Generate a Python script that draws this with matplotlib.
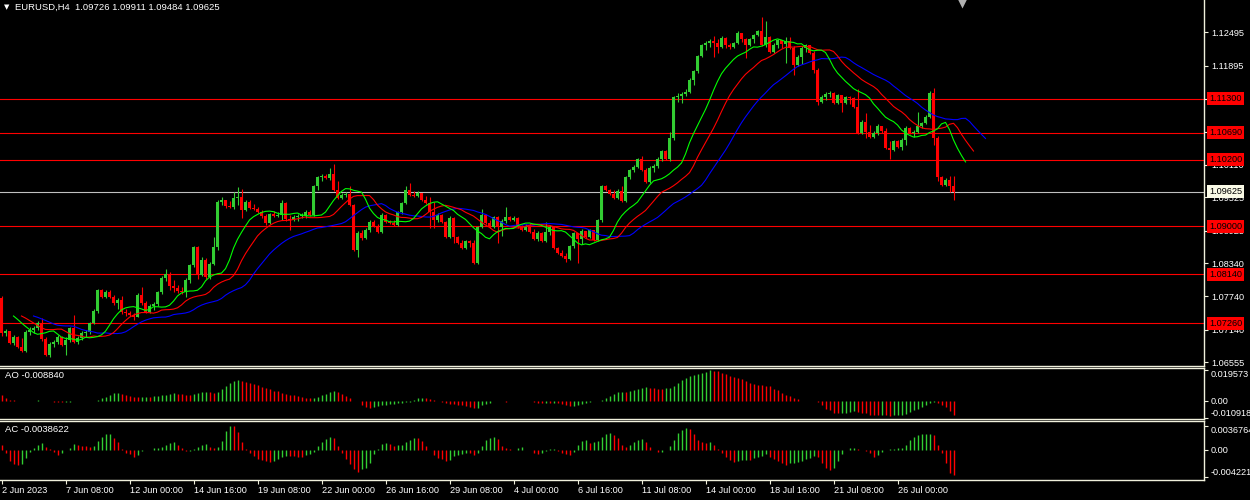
import numpy as np
import pandas as pd
import matplotlib
matplotlib.use("Agg")
import matplotlib.pyplot as plt
import matplotlib.transforms as mtransforms

plt.rcParams['font.family'] = ['Liberation Sans', 'DejaVu Sans']

# EURUSD H4 candles, 2 Jun 16:00 .. 28 Jul 04:00 (2023)
opens = [1.07712, 1.07082, 1.07118, 1.06902, 1.07010, 1.06830, 1.06758, 1.07100, 1.07136, 1.07172,
         1.07262, 1.06974, 1.06686, 1.06884, 1.06920, 1.07010, 1.06866, 1.06956, 1.07172, 1.06920,
         1.06992, 1.07082, 1.07100, 1.07262, 1.07478, 1.07856, 1.07730, 1.07820, 1.07730, 1.07622,
         1.07676, 1.07460, 1.07442, 1.07406, 1.07370, 1.07766, 1.07622, 1.07460, 1.07568, 1.07604,
         1.07820, 1.08072, 1.08144, 1.07928, 1.07892, 1.07838, 1.07820, 1.08036, 1.08306, 1.08630,
         1.08126, 1.08396, 1.08090, 1.08324, 1.08630, 1.09440, 1.09476, 1.09368, 1.09350, 1.09512,
         1.09530, 1.09296, 1.09440, 1.09332, 1.09314, 1.09260, 1.09188, 1.09062, 1.09224, 1.09188,
         1.09206, 1.09422, 1.09134, 1.09116, 1.09170, 1.09188, 1.09206, 1.09260, 1.09206, 1.09728,
         1.09890, 1.09908, 1.09872, 1.09944, 1.09656, 1.09512, 1.09566, 1.09584, 1.09386, 1.08576,
         1.08882, 1.08792, 1.08936, 1.09080, 1.09008, 1.08900, 1.09206, 1.09080, 1.09062, 1.09026,
         1.09260, 1.09422, 1.09656, 1.09566, 1.09548, 1.09602, 1.09476, 1.09422, 1.09260, 1.09116,
         1.09206, 1.09080, 1.08810, 1.09152, 1.08810, 1.08702, 1.08612, 1.08738, 1.08702, 1.08342,
         1.08990, 1.09206, 1.09062, 1.08990, 1.09170, 1.08990, 1.09098, 1.09170, 1.09116, 1.09152,
         1.08990, 1.08936, 1.09008, 1.08900, 1.08774, 1.08882, 1.08738, 1.08900, 1.08990, 1.08612,
         1.08522, 1.08468, 1.08414, 1.08648, 1.08882, 1.08774, 1.08918, 1.08810, 1.08936, 1.08756,
         1.09116, 1.09728, 1.09656, 1.09584, 1.09512, 1.09638, 1.09458, 1.09890, 1.10016, 1.10070,
         1.10214, 1.10016, 1.09800, 1.10052, 1.10088, 1.10214, 1.10358, 1.10214, 1.10592, 1.11330,
         1.11348, 1.11384, 1.11420, 1.11636, 1.11798, 1.12068, 1.12266, 1.12302, 1.12338, 1.12302,
         1.12230, 1.12392, 1.12266, 1.12230, 1.12302, 1.12482, 1.12374, 1.12266, 1.12374, 1.12446,
         1.12518, 1.12266, 1.12410, 1.12140, 1.12266, 1.12356, 1.12284, 1.12338, 1.12212, 1.11906,
         1.12050, 1.12212, 1.12266, 1.12122, 1.11816, 1.11240, 1.11330, 1.11384, 1.11402, 1.11222,
         1.11366, 1.11222, 1.11330, 1.11312, 1.11150, 1.10682, 1.10880, 1.10700, 1.10610, 1.10682,
         1.10808, 1.10718, 1.10412, 1.10376, 1.10538, 1.10430, 1.10556, 1.10772, 1.10682, 1.10700,
         1.10808, 1.10862, 1.10970, 1.11402, 1.10592, 1.09890, 1.09746, 1.09836, 1.09726]
highs = [1.07748, 1.07154, 1.07118, 1.07046, 1.07028, 1.06992, 1.07136, 1.07190, 1.07208, 1.07298,
         1.07352, 1.07010, 1.06920, 1.06956, 1.07046, 1.07028, 1.07010, 1.07190, 1.07406, 1.07028,
         1.07118, 1.07136, 1.07280, 1.07514, 1.07874, 1.07874, 1.07856, 1.07856, 1.07766, 1.07712,
         1.07748, 1.07514, 1.07478, 1.07442, 1.07802, 1.07910, 1.07658, 1.07604, 1.07640, 1.07838,
         1.08108, 1.08234, 1.08180, 1.08036, 1.07946, 1.07910, 1.08072, 1.08324, 1.08648, 1.08648,
         1.08450, 1.08432, 1.08360, 1.08810, 1.09476, 1.09530, 1.09476, 1.09458, 1.09620, 1.09710,
         1.09674, 1.09476, 1.09476, 1.09404, 1.09350, 1.09296, 1.09224, 1.09242, 1.09278, 1.09260,
         1.09476, 1.09440, 1.09206, 1.09206, 1.09224, 1.09242, 1.09296, 1.09296, 1.09746, 1.09908,
         1.09944, 1.09944, 1.10052, 1.10124, 1.09818, 1.09602, 1.09620, 1.09728, 1.09404, 1.08918,
         1.08936, 1.08972, 1.09116, 1.09116, 1.09044, 1.09242, 1.09224, 1.09116, 1.09116, 1.09278,
         1.09440, 1.09728, 1.09782, 1.09638, 1.09638, 1.09602, 1.09548, 1.09530, 1.09440, 1.09242,
         1.09224, 1.09098, 1.09188, 1.09170, 1.08828, 1.08756, 1.08756, 1.08756, 1.08756, 1.09008,
         1.09314, 1.09224, 1.09116, 1.09188, 1.09188, 1.09134, 1.09350, 1.09188, 1.09188, 1.09170,
         1.09026, 1.09044, 1.09062, 1.08954, 1.08918, 1.08900, 1.09080, 1.09026, 1.09008, 1.08630,
         1.08576, 1.08522, 1.08666, 1.08900, 1.08882, 1.08954, 1.08918, 1.08954, 1.08936, 1.09134,
         1.09746, 1.09746, 1.09674, 1.09656, 1.09674, 1.09728, 1.09908, 1.10034, 1.10106, 1.10232,
         1.10268, 1.10052, 1.10088, 1.10124, 1.10250, 1.10376, 1.10376, 1.10700, 1.11348, 1.11402,
         1.11420, 1.11474, 1.11672, 1.11816, 1.12086, 1.12284, 1.12338, 1.12374, 1.12428, 1.12374,
         1.12428, 1.12410, 1.12302, 1.12320, 1.12518, 1.12482, 1.12392, 1.12392, 1.12464, 1.12536,
         1.12770, 1.12698, 1.12428, 1.12302, 1.12374, 1.12356, 1.12410, 1.12410, 1.12248, 1.12086,
         1.12248, 1.12284, 1.12266, 1.12158, 1.11852, 1.11366, 1.11420, 1.11438, 1.11420, 1.11384,
         1.11366, 1.11348, 1.11348, 1.11330, 1.11474, 1.10916, 1.11042, 1.10826, 1.10718, 1.10844,
         1.10808, 1.10772, 1.10538, 1.10556, 1.10556, 1.10592, 1.10808, 1.10790, 1.10736, 1.11060,
         1.10880, 1.11006, 1.11438, 1.11492, 1.10628, 1.09908, 1.09872, 1.09908, 1.09911]
lows = [1.07028, 1.07028, 1.06884, 1.06866, 1.06812, 1.06740, 1.06740, 1.07046, 1.07082, 1.07136,
        1.06938, 1.06668, 1.06650, 1.06830, 1.06884, 1.06848, 1.06686, 1.06920, 1.06902, 1.06884,
        1.06956, 1.07010, 1.07064, 1.07244, 1.07442, 1.07712, 1.07712, 1.07712, 1.07586, 1.07514,
        1.07424, 1.07388, 1.07388, 1.07316, 1.07370, 1.07586, 1.07442, 1.07442, 1.07496, 1.07568,
        1.07784, 1.08018, 1.07856, 1.07820, 1.07802, 1.07784, 1.07730, 1.07982, 1.08270, 1.08054,
        1.08108, 1.08054, 1.08054, 1.08306, 1.08576, 1.09386, 1.09332, 1.09332, 1.09314, 1.09386,
        1.09152, 1.09278, 1.09314, 1.09296, 1.09242, 1.09152, 1.09026, 1.09044, 1.09170, 1.09170,
        1.09116, 1.09098, 1.08936, 1.09098, 1.09098, 1.09152, 1.09152, 1.09188, 1.09188, 1.09656,
        1.09818, 1.09854, 1.09836, 1.09638, 1.09494, 1.09494, 1.09530, 1.09368, 1.08558, 1.08450,
        1.08756, 1.08774, 1.08900, 1.08990, 1.08882, 1.08882, 1.09062, 1.09044, 1.09008, 1.09008,
        1.09224, 1.09404, 1.09548, 1.09530, 1.09530, 1.09458, 1.09404, 1.08972, 1.08972, 1.09080,
        1.09062, 1.08792, 1.08792, 1.08702, 1.08684, 1.08594, 1.08594, 1.08630, 1.08324, 1.08324,
        1.08972, 1.09044, 1.08972, 1.08972, 1.08702, 1.08828, 1.09062, 1.09098, 1.09098, 1.08972,
        1.08918, 1.08918, 1.08882, 1.08756, 1.08738, 1.08720, 1.08720, 1.08846, 1.08594, 1.08504,
        1.08450, 1.08360, 1.08396, 1.08612, 1.08342, 1.08684, 1.08792, 1.08792, 1.08738, 1.08738,
        1.09080, 1.09638, 1.09566, 1.09494, 1.09494, 1.09440, 1.09440, 1.09854, 1.09980, 1.10052,
        1.09998, 1.09782, 1.09782, 1.09980, 1.10052, 1.10178, 1.10196, 1.10178, 1.10556, 1.11240,
        1.11222, 1.11348, 1.11402, 1.11546, 1.11762, 1.12050, 1.12176, 1.12230, 1.12050, 1.12122,
        1.12212, 1.12212, 1.12194, 1.12212, 1.12284, 1.12320, 1.12032, 1.12248, 1.12302, 1.12428,
        1.12248, 1.12230, 1.12122, 1.12122, 1.12212, 1.12212, 1.11942, 1.12194, 1.11726, 1.11888,
        1.11924, 1.12140, 1.12104, 1.11762, 1.11186, 1.11222, 1.11276, 1.11330, 1.11204, 1.11204,
        1.11060, 1.11204, 1.11204, 1.11132, 1.10664, 1.10664, 1.10592, 1.10592, 1.10592, 1.10646,
        1.10682, 1.10394, 1.10214, 1.10358, 1.10412, 1.10376, 1.10466, 1.10664, 1.10610, 1.10682,
        1.10772, 1.10844, 1.10952, 1.10466, 1.09818, 1.09728, 1.09728, 1.09620, 1.09484]
closes = [1.07082, 1.07118, 1.06902, 1.07010, 1.06830, 1.06758, 1.07100, 1.07136, 1.07172, 1.07262,
          1.06974, 1.06686, 1.06884, 1.06920, 1.07010, 1.06866, 1.06956, 1.07172, 1.06920, 1.06992,
          1.07082, 1.07100, 1.07262, 1.07478, 1.07856, 1.07730, 1.07820, 1.07730, 1.07622, 1.07676,
          1.07460, 1.07442, 1.07406, 1.07370, 1.07766, 1.07622, 1.07460, 1.07568, 1.07604, 1.07820,
          1.08072, 1.08144, 1.07928, 1.07892, 1.07838, 1.07820, 1.08036, 1.08306, 1.08630, 1.08126,
          1.08396, 1.08090, 1.08324, 1.08630, 1.09440, 1.09476, 1.09368, 1.09350, 1.09512, 1.09530,
          1.09296, 1.09440, 1.09332, 1.09314, 1.09260, 1.09188, 1.09062, 1.09224, 1.09188, 1.09206,
          1.09422, 1.09134, 1.09116, 1.09170, 1.09188, 1.09206, 1.09260, 1.09206, 1.09728, 1.09890,
          1.09908, 1.09872, 1.09944, 1.09656, 1.09512, 1.09566, 1.09584, 1.09386, 1.08576, 1.08882,
          1.08792, 1.08936, 1.09080, 1.09008, 1.08900, 1.09206, 1.09080, 1.09062, 1.09026, 1.09260,
          1.09422, 1.09656, 1.09566, 1.09548, 1.09602, 1.09476, 1.09422, 1.09260, 1.09116, 1.09206,
          1.09080, 1.08810, 1.09152, 1.08810, 1.08702, 1.08612, 1.08738, 1.08702, 1.08342, 1.08990,
          1.09206, 1.09062, 1.08990, 1.09170, 1.08990, 1.09098, 1.09170, 1.09116, 1.09152, 1.08990,
          1.08936, 1.09008, 1.08900, 1.08774, 1.08882, 1.08738, 1.08900, 1.08990, 1.08612, 1.08522,
          1.08468, 1.08414, 1.08648, 1.08882, 1.08774, 1.08918, 1.08810, 1.08936, 1.08756, 1.09116,
          1.09728, 1.09656, 1.09584, 1.09512, 1.09638, 1.09458, 1.09890, 1.10016, 1.10070, 1.10214,
          1.10016, 1.09800, 1.10052, 1.10088, 1.10214, 1.10358, 1.10214, 1.10592, 1.11330, 1.11348,
          1.11384, 1.11420, 1.11636, 1.11798, 1.12068, 1.12266, 1.12302, 1.12338, 1.12302, 1.12230,
          1.12392, 1.12266, 1.12230, 1.12302, 1.12482, 1.12374, 1.12266, 1.12374, 1.12446, 1.12518,
          1.12266, 1.12410, 1.12140, 1.12266, 1.12356, 1.12284, 1.12338, 1.12212, 1.11906, 1.12050,
          1.12212, 1.12266, 1.12122, 1.11816, 1.11240, 1.11330, 1.11384, 1.11402, 1.11222, 1.11366,
          1.11222, 1.11330, 1.11312, 1.11150, 1.10682, 1.10880, 1.10700, 1.10610, 1.10682, 1.10808,
          1.10718, 1.10412, 1.10376, 1.10538, 1.10430, 1.10556, 1.10772, 1.10682, 1.10700, 1.10808,
          1.10862, 1.10970, 1.11402, 1.10592, 1.09890, 1.09746, 1.09836, 1.09726, 1.09625]

# Awesome Oscillator and Accelerator/Decelerator values per bar
ao = [0.00366, 0.00172, 0.00086, 0.00054, 0.00032, 0.00022, 0.00013, 0.00022, 0.00030, 0.00034,
      0.00004, 0.00000, -0.00022, -0.00032, -0.00043, -0.00086, -0.00065, -0.00032, -0.00017, -0.00009,
      0.00004, 0.00002, 0.00005, 0.00022, 0.00086, 0.00172, 0.00280, 0.00387, 0.00495, 0.00516,
      0.00452, 0.00387, 0.00323, 0.00280, 0.00258, 0.00269, 0.00280, 0.00269, 0.00323, 0.00344,
      0.00366, 0.00409, 0.00452, 0.00495, 0.00473, 0.00430, 0.00409, 0.00398, 0.00452, 0.00538,
      0.00581, 0.00602, 0.00559, 0.00516, 0.00581, 0.00753, 0.00968, 0.01161, 0.01290, 0.01355,
      0.01290, 0.01226, 0.01161, 0.01097, 0.01032, 0.00925, 0.00839, 0.00753, 0.00667, 0.00624,
      0.00538, 0.00452, 0.00387, 0.00366, 0.00323, 0.00237, 0.00194, 0.00172, 0.00215, 0.00237,
      0.00366, 0.00452, 0.00581, 0.00645, 0.00581, 0.00452, 0.00323, 0.00194, 0.00022, -0.00022,
      -0.00237, -0.00366, -0.00430, -0.00366, -0.00301, -0.00280, -0.00237, -0.00194, -0.00172, -0.00151,
      -0.00129, -0.00086, -0.00065, 0.00086, 0.00194, 0.00204, 0.00194, 0.00108, 0.00043, -0.00022,
      -0.00043, -0.00151, -0.00172, -0.00183, -0.00258, -0.00280, -0.00323, -0.00366, -0.00452, -0.00430,
      -0.00280, -0.00215, -0.00108, -0.00022, -0.00006, -0.00022, -0.00032, -0.00017, -0.00009, -0.00004,
      0.00002, 0.00004, -0.00022, -0.00043, -0.00108, -0.00118, -0.00112, -0.00120, -0.00114, -0.00151,
      -0.00172, -0.00237, -0.00301, -0.00290, -0.00237, -0.00194, -0.00129, -0.00043, -0.00011, 0.00011,
      0.00065, 0.00194, 0.00323, 0.00452, 0.00581, 0.00591, 0.00581, 0.00645, 0.00710, 0.00796,
      0.00839, 0.00903, 0.00839, 0.00828, 0.00796, 0.00774, 0.00839, 0.00849, 0.00968, 0.01161,
      0.01355, 0.01484, 0.01613, 0.01677, 0.01742, 0.01785, 0.01828, 0.019573, 0.01946, 0.01914,
      0.01785, 0.01720, 0.01591, 0.01527, 0.01462, 0.01398, 0.01269, 0.01183, 0.01118, 0.01054,
      0.01011, 0.00989, 0.00946, 0.00774, 0.00688, 0.00538, 0.00387, 0.00323, 0.00194, 0.00108,
      0.00011, -0.00004, -0.00011, -0.00022, -0.00065, -0.00274, -0.00485, -0.00591, -0.00739, -0.00749,
      -0.00745, -0.00740, -0.00675, -0.00665, -0.00696, -0.00738, -0.00745, -0.00865, -0.00907, -0.00915,
      -0.00910, -0.00920, -0.00930, -0.00925, -0.00920, -0.00886, -0.00802, -0.00675, -0.00591, -0.00485,
      -0.00401, -0.00274, -0.00148, -0.00042, -0.00105, -0.00274, -0.00401, -0.00654, -0.00884]
ac = [0.00066, -0.00056, -0.00173, -0.00224, -0.00235, -0.00214, -0.00133, -0.00036, 0.00031, 0.00066,
      0.00097, 0.00036, 0.00010, -0.00036, -0.00077, -0.00046, -0.00005, 0.00026, 0.00087, 0.00066,
      0.00056, 0.00051, 0.00041, 0.00056, 0.00128, 0.00194, 0.00240, 0.00245, 0.00184, 0.00117,
      0.00015, -0.00046, -0.00061, -0.00107, -0.00077, -0.00015, 0.00002, 0.00001, 0.00020, 0.00023,
      0.00036, 0.00071, 0.00097, 0.00112, 0.00077, 0.00026, -0.00026, -0.00023, 0.00015, 0.00046,
      0.00077, 0.00092, 0.00046, 0.00026, 0.00041, 0.00138, 0.00286, 0.0036764, 0.00360, 0.00270,
      0.00117, 0.00010, -0.00046, -0.00097, -0.00138, -0.00158, -0.00179, -0.00184, -0.00173, -0.00138,
      -0.00107, -0.00097, -0.00099, -0.00102, -0.00105, -0.00107, -0.00087, -0.00066, -0.00036, 0.00056,
      0.00117, 0.00168, 0.00199, 0.00179, 0.00056, -0.00056, -0.00148, -0.00224, -0.00301, -0.00342,
      -0.00301, -0.00275, -0.00199, -0.00061, 0.00005, 0.00087, 0.00107, 0.00087, 0.00056, 0.00066,
      0.00077, 0.00117, 0.00148, 0.00179, 0.00176, 0.00133, 0.00056, 0.00000, -0.00087, -0.00122,
      -0.00148, -0.00173, -0.00158, -0.00097, -0.00077, -0.00066, -0.00051, -0.00056, -0.00087, -0.00056,
      0.00056, 0.00148, 0.00184, 0.00199, 0.00158, 0.00056, 0.00026, 0.00005, 0.00002, 0.00026,
      0.00046, 0.00000, -0.00005, -0.00046, -0.00066, -0.00046, -0.00015, 0.00005, 0.00006, -0.00026,
      -0.00046, -0.00066, -0.00087, -0.00036, 0.00066, 0.00138, 0.00148, 0.00097, 0.00117, 0.00138,
      0.00199, 0.00240, 0.00260, 0.00230, 0.00179, 0.00077, 0.00046, 0.00066, 0.00117, 0.00143,
      0.00168, 0.00117, 0.00041, 0.00000, -0.00036, -0.00033, 0.00000, 0.00056, 0.00148, 0.00250,
      0.00301, 0.00332, 0.00321, 0.00235, 0.00148, 0.00117, 0.00097, 0.00117, 0.00066, 0.00005,
      -0.00056, -0.00112, -0.00158, -0.00189, -0.00173, -0.00158, -0.00156, -0.00161, -0.00128, -0.00112,
      -0.00097, -0.00071, -0.00107, -0.00148, -0.00179, -0.00209, -0.00235, -0.00209, -0.00199, -0.00194,
      -0.00173, -0.00148, -0.00122, -0.00097, -0.00107, -0.00199, -0.00275, -0.00306, -0.00275, -0.00173,
      -0.00071, -0.00003, 0.00026, 0.00028, 0.00005, 0.00003, -0.00026, -0.00056, -0.00107, -0.00077,
      -0.00036, 0.00003, 0.00005, 0.00008, 0.00026, 0.00028, 0.00077, 0.00148, 0.00199, 0.00219,
      0.00240, 0.00242, 0.00245, 0.00219, 0.00066, -0.00056, -0.00209, -0.00352, -0.0038622]

levels = [1.11300, 1.10690, 1.10200, 1.09000, 1.08140, 1.07260]
bid = 1.09625
price_ticks = [1.12495, 1.11895, 1.11295, 1.10695, 1.10110, 1.09525, 1.08925,
               1.08340, 1.07740, 1.07140, 1.06555]
ao_ticks = [0.019573, 0.0, -0.010918]
ao_tick_labels = ["0.019573", "0.00", "-0.010918"]
ac_ticks = [0.0036764, 0.0, -0.004221]
ac_tick_labels = ["0.0036764", "0.00", "-0.004221"]
date_bars = [0, 16, 32, 48, 64, 80, 96, 112, 128, 144, 160, 176, 192, 208, 224]
date_labels = ["2 Jun 2023", "7 Jun 08:00", "12 Jun 00:00", "14 Jun 16:00", "19 Jun 08:00",
               "22 Jun 00:00", "26 Jun 16:00", "29 Jun 08:00", "4 Jul 00:00", "6 Jul 16:00",
               "11 Jul 08:00", "14 Jul 00:00", "18 Jul 16:00", "21 Jul 08:00", "26 Jul 00:00"]
header = "EURUSD,H4  1.09726 1.09911 1.09484 1.09625"

# colours
bull = '#32cd32'
bear = '#ff0000'
frame = '#f0f0dc'
fs = 6.6

W, H = 1250, 500
fig = plt.figure(figsize=(12.5, 5), dpi=100, facecolor='black')


def rect(x0, y0, x1, y1):
    return [x0 / W, 1 - y1 / H, (x1 - x0) / W, (y1 - y0) / H]


ax = fig.add_axes(rect(0, 0, 1204, 365.5))
ax_ao = fig.add_axes(rect(0, 368, 1204, 418.5))
ax_ac = fig.add_axes(rect(0, 420.5, 1204, 480))

for a in (ax, ax_ao, ax_ac):
    a.set_facecolor('black')
    a.set_xlim(-0.375, 300.625)
    for s in a.spines.values():
        s.set_color(frame)
        s.set_linewidth(1.0)
    a.spines['left'].set_visible(False)
    a.yaxis.tick_right()
    a.tick_params(axis='y', colors=frame, labelcolor='white', length=3, width=0.8,
                  labelsize=fs, pad=2)
ax.spines['top'].set_visible(False)
ax.set_xticks([])
ax_ao.set_xticks([])

# ---- main price pane
o = np.array(opens)
c = np.array(closes)
hi = np.array(highs)
lo = np.array(lows)
x = np.arange(len(c))
cols = np.where(c > o, bull, bear)

for lv in levels:
    ax.axhline(lv, color='#ff0000', lw=0.8, zorder=1)
ax.axhline(bid, color='#c0c0c0', lw=0.8, zorder=1)

ax.vlines(x, lo, hi, colors=cols, linewidth=0.8, zorder=3)
body = np.maximum(np.abs(c - o), 0.00012)
ax.bar(x, body, bottom=np.minimum(o, c), width=0.72, color=cols, linewidth=0, zorder=3)

# Alligator (SMMA of median price, shifted forward)
med = pd.Series((hi + lo) / 2)
jaw = med.ewm(alpha=1 / 13, adjust=False).mean()
teeth = med.ewm(alpha=1 / 8, adjust=False).mean()
lips = med.ewm(alpha=1 / 5, adjust=False).mean()
ax.plot(x + 8, jaw, color='#0000ff', lw=0.8, zorder=4)
ax.plot(x + 5, teeth, color='#ff0000', lw=0.8, zorder=4)
ax.plot(x + 3, lips, color='#00ff00', lw=0.8, zorder=4)

ax.set_ylim(1.13076 - 365.5 * 0.00018, 1.13076)
ax.set_yticks(price_ticks)
ax.set_yticklabels([f"{v:.5f}" for v in price_ticks])

ytr = mtransforms.blended_transform_factory(ax.transAxes, ax.transData)
for lv in levels:
    ax.text(1209 / 1204, lv, f"{lv:.5f}", transform=ytr, color='black', fontsize=fs,
            va='center', ha='left', clip_on=False, zorder=10,
            bbox=dict(boxstyle='square,pad=0.22', fc='#ff0000', ec='none'))
ax.text(1209 / 1204, bid, f"{bid:.5f}", transform=ytr, color='black', fontsize=fs,
        va='center', ha='left', clip_on=False, zorder=10,
        bbox=dict(boxstyle='square,pad=0.22', fc='#fafae6', ec='none'))

# chart shift marker
xtr = mtransforms.blended_transform_factory(ax.transData, ax.transAxes)
ax.plot([240], [1 - 3 / 365.5], marker='v', ms=6.5, color='#b0b0b0', mec='none',
        transform=xtr, clip_on=False, zorder=6)

# ---- AO pane
ao_v = np.array(ao)
ao_col = np.where(np.diff(ao_v, prepend=ao_v[0]) > 0, bull, bear)
ax_ao.vlines(x, 0, ao_v, colors=ao_col, linewidth=1.0)
ax_ao.set_ylim(-(418.5 - 401) * 0.00064, (401 - 368) * 0.00064)
ax_ao.set_yticks(ao_ticks)
lbl = ax_ao.set_yticklabels(ao_tick_labels)
lbl[0].set_va('top')
lbl[-1].set_va('bottom')

# ---- AC pane
ac_v = np.array(ac)
ac_col = np.where(np.diff(ac_v, prepend=ac_v[0]) > 0, bull, bear)
ax_ac.vlines(x, 0, ac_v, colors=ac_col, linewidth=1.0)
ax_ac.set_ylim(-(480 - 449.7) * 0.000153, (449.7 - 420.5) * 0.000153)
ax_ac.set_yticks(ac_ticks)
lbl = ax_ac.set_yticklabels(ac_tick_labels)
lbl[0].set_va('top')
lbl[-1].set_va('bottom')

ax_ac.set_xticks(date_bars)
ax_ac.set_xticklabels(date_labels)
ax_ac.tick_params(axis='x', colors=frame, labelcolor='white', length=3, width=0.8,
                  labelsize=fs, pad=1.5)
for t in ax_ac.get_xticklabels():
    t.set_ha('left')

# ---- texts
fig.text(4 / W, 1 - 7.5 / H, "\u25bc", color='white', fontsize=5, va='center', ha='left',
         family=['DejaVu Sans'])
fig.text(15 / W, 1 - 7.5 / H, header, color='white', fontsize=6.8, va='center', ha='left')
fig.text(5 / W, 1 - 376 / H, "AO -0.008840", color='white', fontsize=6.8, va='center', ha='left')
fig.text(5 / W, 1 - 430 / H, "AC -0.0038622", color='white', fontsize=6.8, va='center', ha='left')

fig.savefig('out.png', dpi=100, facecolor='black')
